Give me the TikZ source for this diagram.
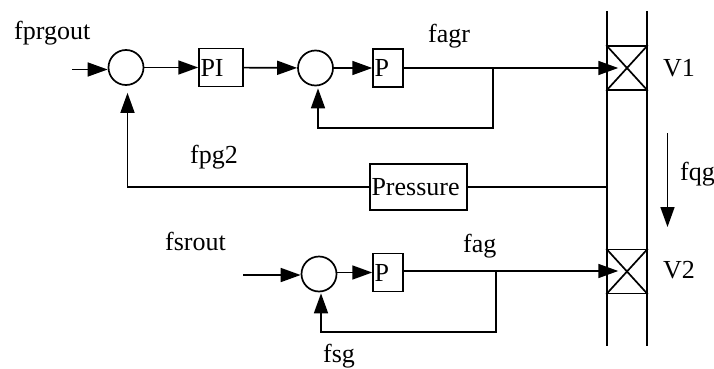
\documentclass[tikz,border=0pt]{standalone}
\usepackage{fontspec}
\setmainfont{Liberation Serif}
\usetikzlibrary{arrows.meta,positioning}
\tikzset{
  flow/.style={line width=1.7pt,-{Triangle[length=20pt,width=14pt]}},
  wire/.style={line width=1.7pt},
  sumnode/.style={circle,draw,line width=1.7pt,minimum size=35pt,inner sep=0pt},
  ctrlbox/.style={draw,line width=1.5pt,inner xsep=1.5pt,inner ysep=0pt,minimum height=38pt,align=left},
  valvebox/.style={draw,line width=1.5pt,minimum width=40pt,minimum height=44pt,inner sep=0pt},
  lab/.style={anchor=base west,inner sep=0pt}
}
\begin{document}
\begin{tikzpicture}[x=1pt,y=-1pt,font=\fontsize{26}{30}\selectfont]
\useasboundingbox (0,0) rectangle (714,369);
% top loop
\coordinate (inA) at (72,69.5);
\node[sumnode] (sumA) at (126,67.5) {};
\node[ctrlbox,text width=41pt] (boxPI) at (221,67.5) {PI};
\node[sumnode] (sumB) at (315.5,68) {};
\node[ctrlbox,text width=27pt] (boxPA) at (388,68) {P};
\node[valvebox] (valveA) at (627,68) {};
\coordinate (joinA) at (493,68);
\coordinate (backA) at (493,128);
\draw[flow] (inA) -- (inA -| sumA.west);
\draw[flow] (sumA) -- (boxPI);
\draw[flow] (boxPI) -- (sumB);
\draw[flow] (sumB) -- (boxPA);
\draw[flow] (boxPA) -- ([xshift=12pt]valveA.west);
\draw[flow] (joinA) -- (backA) -| ([xshift=2.5pt,yshift=-2pt]sumB.south);
% pressure line
\node[ctrlbox,text width=94pt,minimum height=46pt] (boxPr) at (418.5,187) {Pressure};
\coordinate (tapP) at (607,187);
\draw[wire] (tapP) -- (boxPr);
\draw[flow] (boxPr) -| ([xshift=1.5pt,yshift=-7pt]sumA.south);
% bottom loop
\coordinate (inB) at (243,275);
\node[sumnode] (sumC) at (319,274) {};
\node[ctrlbox,text width=27pt] (boxPB) at (388,272.5) {P};
\node[valvebox] (valveB) at (627,271.5) {};
\coordinate (joinB) at (496,271);
\coordinate (backB) at (496,332);
\draw[flow] (inB) -- (inB -| sumC.west);
\draw[flow] (sumC.east |- boxPB) -- (boxPB);
\draw[flow] (boxPB.east |- joinB) -- ([xshift=12pt]valveB.west |- joinB);
\draw[flow] (joinB) -- (backB) -| ([xshift=2pt,yshift=-1pt]sumC.south);
% pipe and valves
\foreach \v in {valveA,valveB} {
  \draw[wire] (\v.north west) -- (\v.south east);
  \draw[wire] (\v.north east) -- (\v.south west);
}
\coordinate (pipeLT) at (607,11);
\coordinate (pipeLB) at (607,346);
\coordinate (pipeRT) at (647,11);
\coordinate (pipeRB) at (647,346);
\draw[wire] (pipeLT) -- (pipeLB);
\draw[wire] (pipeRT) -- (pipeRB);
\coordinate (fqgA) at (667.5,133);
\coordinate (fqgB) at (667.5,227);
\draw[flow] (fqgA) -- (fqgB);
% labels
\foreach \name/\lx/\ly/\lab in {
  nfprg/14/40/fprgout,
  nfagr/428/42/fagr,
  nvA/663/77/V1,
  nfpg/190/163/fpg2,
  nfqg/680/180/fqg,
  nfsr/165/250/fsrout,
  nfag/463/252/fag,
  nvB/663/278/V2,
  nfsg/323/362.5/fsg} {
  \node[lab] (\name) at (\lx,\ly) {\lab};
}
\end{tikzpicture}
\end{document}
